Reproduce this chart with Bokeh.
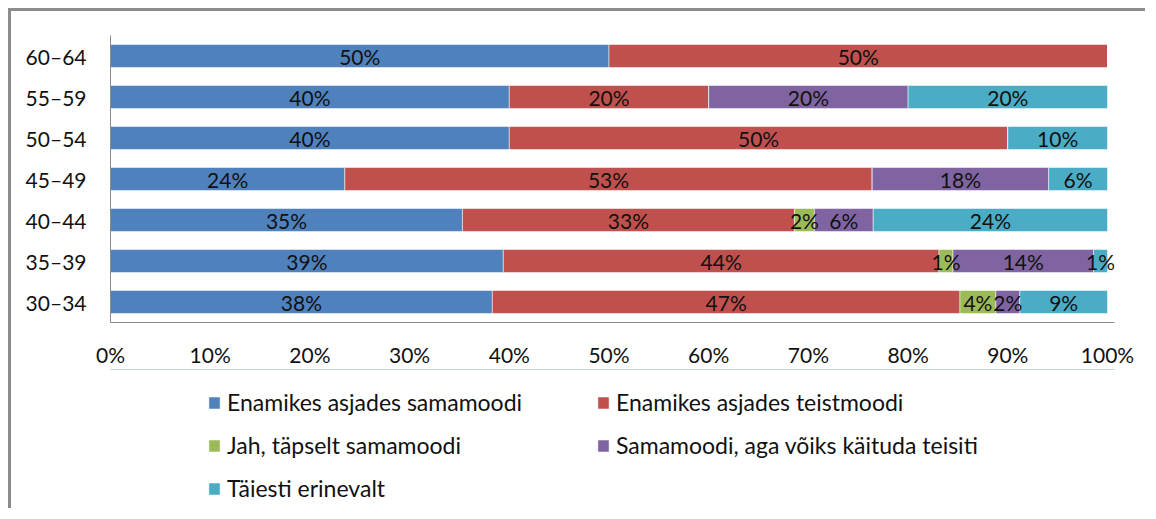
from bokeh.plotting import figure
from bokeh.layouts import column
from bokeh.models import (ColumnDataSource, FactorRange, Range1d, LabelSet, Legend,
                          LegendItem, PrintfTickFormatter, FixedTicker)
from bokeh.core.properties import value
from bokeh.embed import file_html
from bokeh.resources import INLINE

# ---- data -------------------------------------------------------------
categories = ["30–34", "35–39", "40–44", "45–49", "50–54", "55–59", "60–64"]
series_names = ["Enamikes asjades samamoodi", "Enamikes asjades teistmoodi",
                "Jah, täpselt samamoodi", "Samamoodi, aga võiks käituda teisiti",
                "Täiesti erinevalt"]
enamikes_samamoodi = [38.3, 39.4, 35.3, 23.5, 40.0, 40.0, 50.0]
enamikes_teistmoodi = [46.9, 43.7, 33.3, 52.9, 50.0, 20.0, 50.0]
tapselt_samamoodi = [3.6, 1.4, 2.0, 0.0, 0.0, 0.0, 0.0]
voiks_teisiti = [2.4, 14.1, 5.9, 17.7, 0.0, 20.0, 0.0]
taiesti_erinevalt = [8.8, 1.4, 23.5, 5.9, 10.0, 20.0, 0.0]
x_ticks = [0, 10, 20, 30, 40, 50, 60, 70, 80, 90, 100]

colors = ["#4F81BD", "#C0504D", "#9BBB59", "#8064A2", "#4BACC6"]
FONT = "Lato"
TXT = "#111111"
BORDER = "3px solid #8c8c8c"

series = [enamikes_samamoodi, enamikes_teistmoodi, tapselt_samamoodi,
          voiks_teisiti, taiesti_erinevalt]
keys = ["s0", "s1", "s2", "s3", "s4"]
data = {"age": categories}
for k, s in zip(keys, series):
    data[k] = s
src = ColumnDataSource(data)

# ---- main chart ---------------------------------------------------------
p = figure(y_range=FactorRange(factors=categories, range_padding=0),
           x_range=Range1d(0, 100.7),
           width=1137, height=361, output_backend="svg", toolbar_location=None,
           min_border_left=99, min_border_right=34, min_border_top=24,
           min_border_bottom=50)
p.styles = {"border-top": BORDER, "border-left": BORDER}
p.outline_line_color = None
p.grid.visible = False

renderers = p.hbar_stack(keys, y="age", height=0.56, color=colors, source=src,
                         line_color="white", line_width=1, line_alpha=0.5)

# data labels
lx, ly, lt = [], [], []
for i, cat in enumerate(categories):
    left = 0.0
    for s in series:
        v = s[i]
        if v > 0:
            lx.append(left + v / 2.0)
            ly.append(cat)
            lt.append(f"{round(v):d}%")
        left += v
lab_src = ColumnDataSource(dict(x=lx, y=ly, t=lt))
labels = LabelSet(x="x", y="y", text="t", source=lab_src, text_align="center",
                  text_baseline="middle", text_font=value(FONT),
                  text_font_size="21px", text_color=TXT)
p.add_layout(labels)

# axes
p.xaxis.ticker = FixedTicker(ticks=x_ticks)
p.xaxis.formatter = PrintfTickFormatter(format="%d%%")
for ax in (p.xaxis, p.yaxis):
    ax.axis_line_color = "#8a8a8a"
    ax.axis_line_width = 1
    ax.major_tick_line_color = None
    ax.minor_tick_line_color = None
    ax.major_tick_out = 0
    ax.major_tick_in = 0
    ax.minor_tick_out = 0
    ax.minor_tick_in = 0
    ax.major_label_text_font = FONT
    ax.major_label_text_font_size = "21px"
    ax.major_label_text_color = TXT
p.xaxis.major_label_standoff = 19
p.yaxis.major_label_standoff = 24

# ---- legend strip -------------------------------------------------------
q = figure(width=1137, height=139, output_backend="svg", toolbar_location=None,
           x_range=Range1d(0, 1), y_range=Range1d(0, 1),
           x_axis_type=None, y_axis_type=None,
           min_border_left=0, min_border_right=0, min_border_top=0,
           min_border_bottom=0)
q.styles = {"border-left": BORDER}
q.outline_line_color = None
q.grid.visible = False
# legend proxies, placed outside the visible range
dummies = [q.hbar(y=[5], left=[0], right=[1], height=0.5, fill_color=c,
                  line_color="white", line_width=1, line_alpha=0.5)
           for c in colors]

legend = Legend(items=[LegendItem(label=series_names[i], renderers=[dummies[i]])
                       for i in range(len(series_names))],
                location=(97, 6), orientation="horizontal", ncols=2,
                padding=0, margin=0, spacing=15, label_height=27, label_width=354,
                glyph_height=15, glyph_width=14, label_standoff=6,
                border_line_color=None, background_fill_alpha=0,
                label_text_font=FONT, label_text_font_size="23px",
                label_text_color=TXT)
q.add_layout(legend, "center")

layout = column(p, q, spacing=0,
                styles={"margin-top": "8px", "margin-left": "8px"})

open("out.html", "w").write(file_html(layout, INLINE))
